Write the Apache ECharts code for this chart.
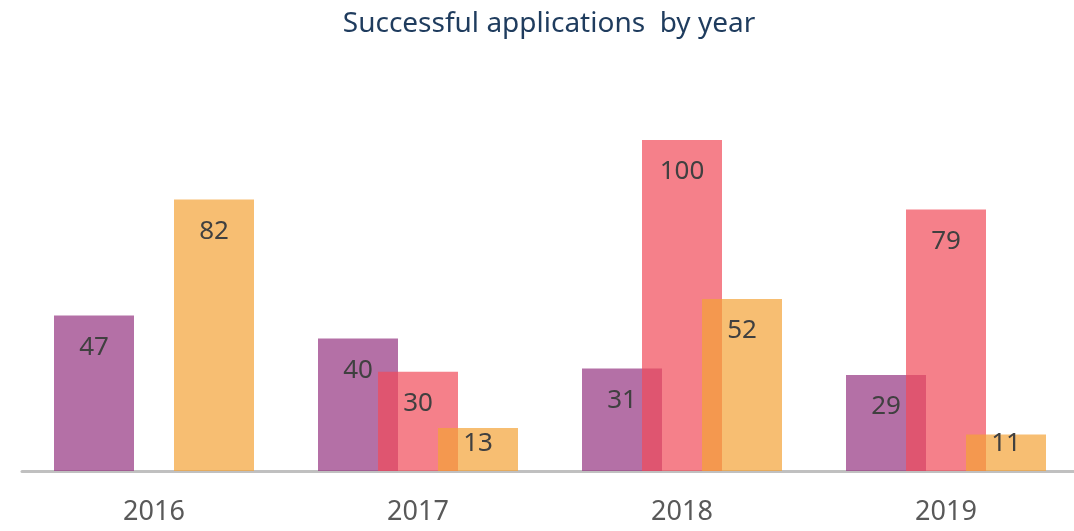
<!DOCTYPE html>
<html>
<head>
<meta charset="utf-8">
<title>Successful applications by year</title>
<script src="https://cdn.jsdelivr.net/npm/echarts@6/dist/echarts.min.js"></script>
<style>
    html, body {margin: 0; padding: 0; background: #ffffff; overflow: hidden;}
    #char1 {width: 1098px; height: 531px;}
</style>
</head>
<body>
<div id="char1"></div>
<script>
// 数据
var years = ['2016', '2017', '2018', '2019'];
var series1 = [47, 40, 31, 29];
var series2 = ['-', 30, 100, 79];   // 2016 没有值
var series3 = [82, 13, 52, 11];

char1();

function char1() {

    var myChart = echarts.init(document.getElementById('char1'));

    var label = {
        show: true,
        position: 'insideTop',
        color: '#404040',
        fontSize: 26,
        fontFamily: 'Noto Sans'
    };

    // 标签放在柱子顶部下方, 柱子太矮时往上收
    var labelLayout = function (params) {
        var r = params.rect;
        return {
            x: r.x + r.width / 2,
            y: Math.min(r.y + 32, r.y + r.height - 27),
            align: 'center',
            verticalAlign: 'middle'
        };
    };

    option = {
        animation: false,
        title: {
            text: 'Successful applications  by year',
            left: 'center',
            top: 5,
            textStyle: {
                color: '#1f3c5e',
                fontSize: 28,
                fontWeight: 'normal',
                fontFamily: 'Noto Sans'
            }
        },
        grid: {left: 22, width: 1056, top: 140, bottom: 60},
        xAxis: {
            type: 'category',
            data: years,
            axisLine: {lineStyle: {color: '#c0c0c0', width: 3}},
            axisTick: {show: false},
            axisLabel: {
                color: '#595959',
                fontSize: 27,
                fontFamily: 'Noto Sans',
                margin: 28
            }
        },
        yAxis: {
            type: 'value',
            min: 0,
            max: 100,
            show: false,
            splitLine: {show: false}
        },
        series: [
            {
                name: 'Series 1',
                type: 'bar',
                barWidth: 80,
                barGap: '-25%',
                itemStyle: {color: 'rgba(148,51,128,0.7)'},
                label: label,
                labelLayout: labelLayout,
                data: series1
            },
            {
                name: 'Series 2',
                type: 'bar',
                barWidth: 80,
                barGap: '-25%',
                itemStyle: {color: 'rgba(241,74,88,0.7)'},
                label: label,
                labelLayout: labelLayout,
                data: series2
            },
            {
                name: 'Series 3',
                type: 'bar',
                barWidth: 80,
                barGap: '-25%',
                itemStyle: {color: 'rgba(244,162,54,0.7)'},
                label: label,
                labelLayout: labelLayout,
                data: series3
            }
        ]
    };

    myChart.setOption(option);
    window.addEventListener('resize', function () {
        myChart.resize();
    })

}
</script>
</body>
</html>
